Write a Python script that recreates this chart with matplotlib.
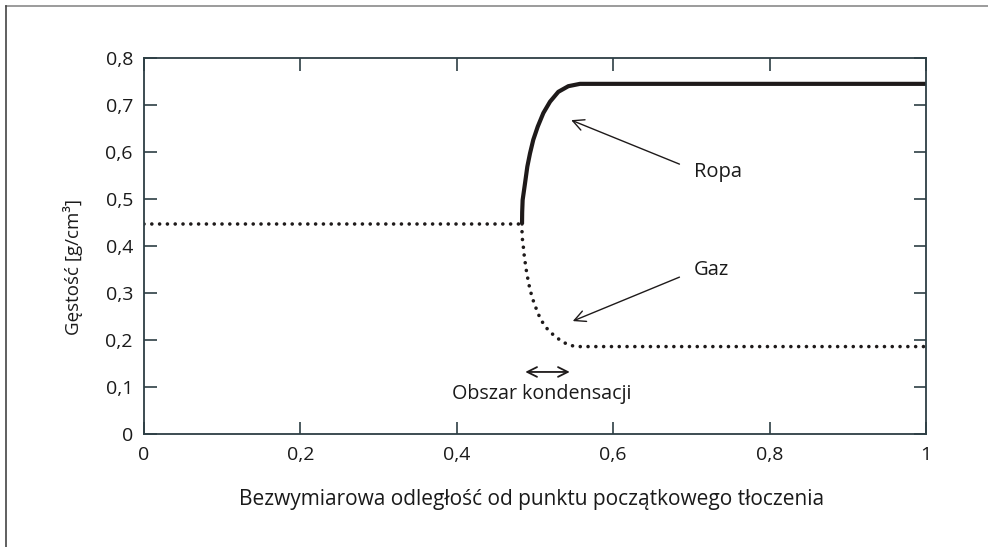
import matplotlib
matplotlib.use("Agg")
import matplotlib.pyplot as plt
from matplotlib.lines import Line2D

plt.rcParams['font.family'] = ['Open Sans', 'DejaVu Sans']

# Data
gas_flat_x = [0.0, 0.483]
gas_flat_y = [0.447, 0.447]

gas_x = [0.4834, 0.4834, 0.4838, 0.4851, 0.4859, 0.4872, 0.4885, 0.4902, 0.4920, 0.4940,
         0.4966, 0.4991, 0.5022, 0.5056, 0.5099, 0.5150, 0.5214, 0.5278, 0.5354, 0.5439,
         0.5534, 1.0]
gas_y = [0.447, 0.430, 0.416, 0.398, 0.384, 0.368, 0.352, 0.336, 0.320, 0.305,
         0.290, 0.277, 0.264, 0.250, 0.237, 0.225, 0.214, 0.205, 0.196, 0.189,
         0.186, 0.186]

oil_x = [0.4834, 0.4836, 0.4842, 0.4872, 0.4902, 0.4936, 0.4978, 0.5035, 0.5107, 0.5192,
         0.5298, 0.5426, 0.5575, 1.0]
oil_y = [0.447, 0.472, 0.498, 0.533, 0.569, 0.597, 0.626, 0.654, 0.683, 0.707,
         0.728, 0.740, 0.745, 0.745]

x_ticks = [0, 0.2, 0.4, 0.6, 0.8, 1.0]
x_tick_labels = ["0", "0,2", "0,4", "0,6", "0,8", "1"]
y_ticks = [0, 0.1, 0.2, 0.3, 0.4, 0.5, 0.6, 0.7, 0.8]
y_tick_labels = ["0", "0,1", "0,2", "0,3", "0,4", "0,5", "0,6", "0,7", "0,8"]

fig = plt.figure(figsize=(9.88, 5.47), dpi=100)
W, H = 988, 547
ax = fig.add_axes([144 / W, 1 - 434 / H, (926 - 144) / W, (434 - 58) / H])

dark = "#1e1a1a"
spine_c = "#2d3e44"
txt_c = "#1a1a1a"

dot_style = (0, (0.01, 2.15))
ax.plot(gas_flat_x, gas_flat_y, color=dark, lw=2.6, linestyle=dot_style,
        dash_capstyle='round')
ax.plot(gas_x, gas_y, color=dark, lw=2.6, linestyle=dot_style,
        dash_capstyle='round')
ax.plot(oil_x, oil_y, color=dark, lw=3.0, solid_capstyle='butt', solid_joinstyle='round')

ax.set_xlim(0, 1)
ax.set_ylim(0, 0.8)
ax.set_xticks(x_ticks)
ax.set_xticklabels(x_tick_labels)
ax.set_yticks(y_ticks)
ax.set_yticklabels(y_tick_labels)
ax.tick_params(direction='in', length=9, width=1.2, color=spine_c,
               top=True, right=True, labelsize=14, labelcolor=txt_c, pad=8)
ax.tick_params(axis='x', pad=9)
for s in ax.spines.values():
    s.set_color(spine_c)
    s.set_linewidth(1.3)

ax.set_ylabel("Gęstość [g/cm³]", fontsize=13.5, color=txt_c, va='center')
ax.yaxis.set_label_coords(-0.0908, 0.443)
ax.set_xlabel("Bezwymiarowa odległość od punktu początkowego tłoczenia",
              fontsize=15, color=txt_c, va='center')
ax.xaxis.set_label_coords(0.495, -0.1755)

arrow_kw = dict(arrowstyle='->,head_length=0.8,head_width=0.4', color=dark, lw=1.0)
ax.annotate("", xy=(0.543, 0.670), xytext=(0.688, 0.572), arrowprops=arrow_kw)
ax.annotate("", xy=(0.545, 0.238), xytext=(0.688, 0.336), arrowprops=arrow_kw)
ax.text(0.703, 0.557, "Ropa", fontsize=14.5, va='center', ha='left', color=txt_c)
ax.text(0.703, 0.349, "Gaz", fontsize=14.5, va='center', ha='left', color=txt_c)

ax.annotate("", xy=(0.484, 0.132), xytext=(0.548, 0.132),
            arrowprops=dict(arrowstyle='<->,head_length=0.7,head_width=0.35', color=dark, lw=1.3))
ax.text(0.509, 0.085, "Obszar kondensacji", fontsize=14.2, va='center', ha='center', color=txt_c)

# outer frame lines (top and left)
fig.add_artist(Line2D([6 / W, 1], [1 - 6 / H, 1 - 6 / H], color="#8a8a8a", lw=1.2, transform=fig.transFigure))
fig.add_artist(Line2D([6 / W, 6 / W], [0, 1 - 6 / H], color="#444444", lw=1.2, transform=fig.transFigure))

fig.savefig("out.png", dpi=100)
